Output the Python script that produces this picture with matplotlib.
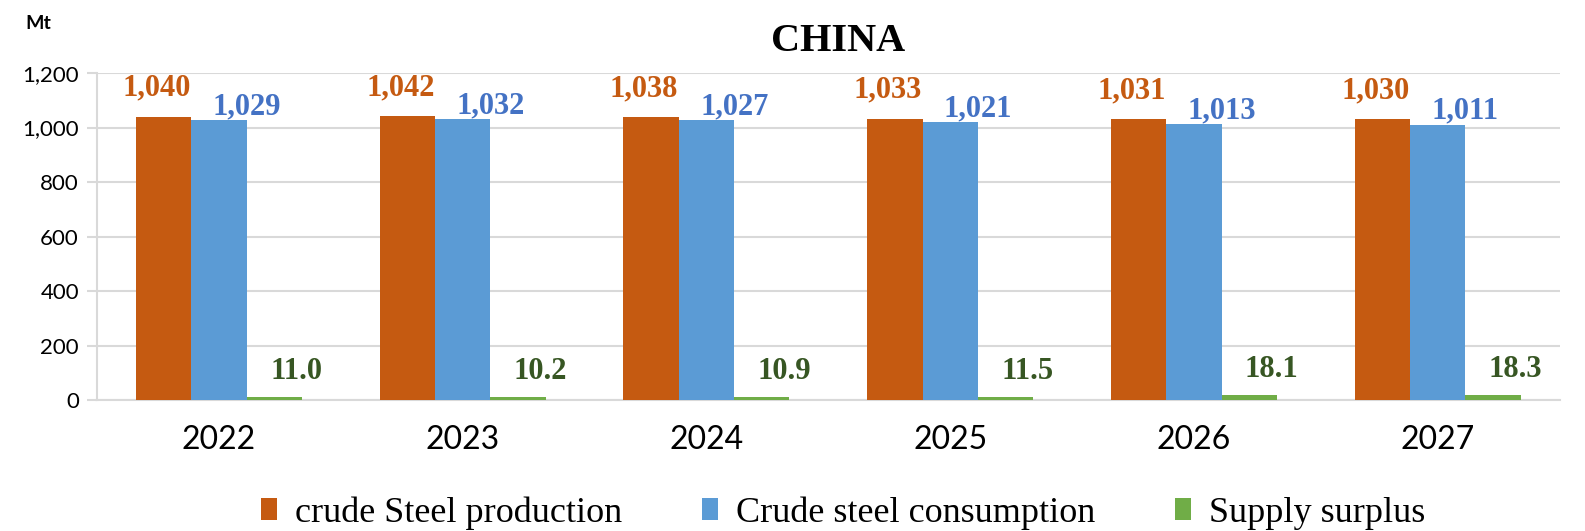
import numpy as np
import matplotlib.pyplot as plt

years = ['2022', '2023', '2024', '2025', '2026', '2027']
production = [1040, 1042, 1038, 1033, 1031, 1030]
consumption = [1029, 1032, 1027, 1021, 1013, 1011]
surplus = [11.0, 10.2, 10.9, 11.5, 18.1, 18.3]

c_prod = '#C55A11'
c_cons = '#5B9BD5'
c_surp = '#70AD47'

fig = plt.figure(figsize=(15.85, 5.31), dpi=100)
ax = fig.add_axes([0.0612, 0.2467, 0.9228, 0.6158])

x = np.arange(len(years))
w = 0.227
b1 = ax.bar(x - w, production, w, color=c_prod, zorder=3)
b2 = ax.bar(x, consumption, w, color=c_cons, zorder=3)
b3 = ax.bar(x + w, surplus, w, color=c_surp, zorder=3)

serif = 'Liberation Serif'
for xi, v in zip(x, production):
    ax.annotate(f'{v:,}', (xi - w, v), xytext=(-5, 10), textcoords='offset points',
                ha='center', va='bottom', fontsize=22, fontweight='bold',
                color=c_prod, family=serif)
for xi, v in zip(x, consumption):
    ax.annotate(f'{v:,}', (xi, v), xytext=(20, -1), textcoords='offset points',
                ha='center', va='bottom', fontsize=22, fontweight='bold',
                color='#4472C4', family=serif)
for xi, v in zip(x, surplus):
    ax.annotate(f'{v:.1f}', (xi + w, v), xytext=(16, 8), textcoords='offset points',
                ha='center', va='bottom', fontsize=22, fontweight='bold',
                color='#375623', family=serif)

ax.set_xlim(-0.5, len(years) - 0.5)
ax.set_ylim(0, 1200)
ax.set_yticks(range(0, 1201, 200))
ax.set_yticklabels([f'{t:,}' for t in range(0, 1201, 200)], fontsize=16, family='Lato')
ax.set_xticks(x)
ax.set_xticklabels(years, fontsize=23, family='Lato')
ax.tick_params(axis='x', length=0, pad=18)
ax.tick_params(axis='y', length=7, color='#D9D9D9', width=1.5, pad=6)

ax.grid(axis='y', color='#D9D9D9', linewidth=1.5, zorder=0)
for s in ['top', 'right']:
    ax.spines[s].set_visible(False)
ax.spines['left'].set_color('#D9D9D9')
ax.spines['left'].set_linewidth(1.5)
ax.spines['bottom'].set_color('#D9D9D9')
ax.spines['bottom'].set_linewidth(1.5)

fig.text(0.529, 0.922, 'CHINA', ha='center', va='center', fontsize=29,
         fontweight='bold', family=serif)
fig.text(0.024, 0.956, 'Mt', ha='center', va='center', fontsize=14,
         fontweight='bold', family='Lato')

fig.legend([b1, b2, b3],
           ['crude Steel production', 'Crude steel consumption', 'Supply surplus'],
           loc='center', bbox_to_anchor=(0.532, 0.034), ncol=3, frameon=False,
           prop={'family': serif, 'size': 26}, handlelength=0.45, handleheight=0.6,
           columnspacing=2.2, handletextpad=0.5, borderpad=0)

fig.savefig('out.png', dpi=100)
